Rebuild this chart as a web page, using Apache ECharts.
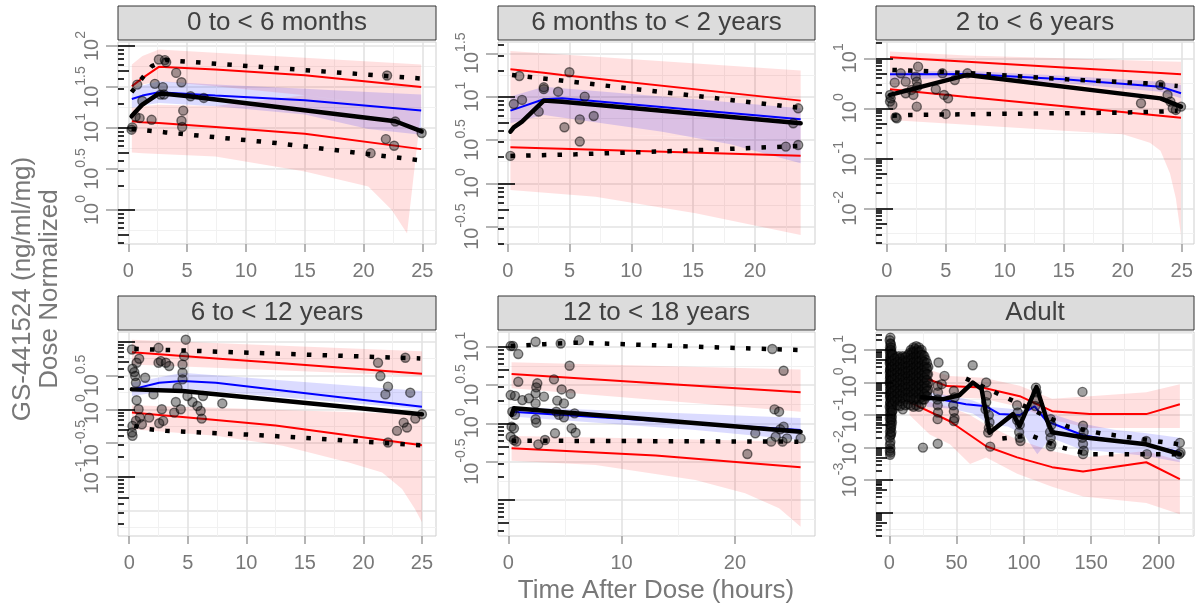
<!DOCTYPE html>
<html><head><meta charset="utf-8">
<script src="https://cdn.jsdelivr.net/npm/echarts@6.0.0/dist/echarts.min.js"></script>
<style>html,body{margin:0;padding:0;background:#fff}#chart{width:1199px;height:609px}</style>
</head><body><div id="chart"></div>
<script>
// ---------------- DATA (concentrations in ng/ml/mg, time in hours) ----------------
const panelTitles = ['0 to < 6 months', '6 months to < 2 years', '2 to < 6 years', '6 to < 12 years', '12 to < 18 years', 'Adult'];
const xAxisTitle = 'Time After Dose (hours)';
const yAxisTitle = 'GS-441524 (ng/ml/mg)\nDose Normalized';

// tick labels (x in hours, y as log10 exponents)
const p1_xTicks = [0, 5, 10, 15, 20, 25];  const p1_yTickExp = [0, 0.5, 1, 1.5, 2];
const p2_xTicks = [0, 5, 10, 15, 20];      const p2_yTickExp = [-0.5, 0, 0.5, 1, 1.5];
const p3_xTicks = [0, 5, 10, 15, 20, 25];  const p3_yTickExp = [-2, -1, 0, 1];
const p4_xTicks = [0, 5, 10, 15, 20, 25];  const p4_yTickExp = [-1.5, -1, -0.5, 0, 0.5, 1];
const p5_xTicks = [0, 10, 20];             const p5_yTickExp = [-1, -0.5, 0, 0.5, 1];
const p6_xTicks = [0, 50, 100, 150, 200];  const p6_yTickExp = [-4, -3, -2, -1, 0, 1];

// ---- Panel 1: 0 to < 6 months
const p1_binTime = [0.3, 1.2, 2.6, 7.4, 15, 24.9];
const p1_simP95 = [32.4, 40.7, 55.8, 51.9, 44.2, 31.6];
const p1_simP50 = [22.6, 24.9, 27.4, 24.9, 21.8, 16.4];
const p1_simP05 = [12.1, 11.8, 11.5, 10.3, 8.53, 5.53];
const p1_ciP95Time = [0.3, 1.2, 2.6, 7.4, 15, 24.9];
const p1_ciP95Hi = [59.7, 75.5, 91.2, 82.8, 71.9, 59.7];
const p1_ciP95Lo = [29.5, 33.9, 37.2, 32.4, 25.1, 16.6];
const p1_ciP50Time = [0.3, 1.2, 2.6, 7.4, 15, 20.4, 24.9];
const p1_ciP50Hi = [29.5, 33.0, 37.2, 34.0, 30.1, 27.5, 25.6];
const p1_ciP50Lo = [17.6, 18.8, 20.2, 18.4, 14.6, 9.73, 8.28];
const p1_ciP05Time = [0.3, 1.2, 2.6, 7.4, 15, 20.4, 22.4, 23.7, 24.9];
const p1_ciP05Hi = [17.6, 18.6, 19.3, 18.6, 25.1, 20.0, 18.4, 17.4, 16.6];
const p1_ciP05Lo = [5.04, 4.94, 4.81, 4.50, 2.95, 1.93, 1.0, 0.518, null];
const p1_obsMedTime = [0.28, 0.62, 1.19, 2.46, 2.88, 5.15, 22.7, 24.94];
const p1_obsMed = [13.9, 15.8, 19.3, 25.6, 26.3, 24.4, 12.1, 9.1];
const p1_obsP95Time = [0.28, 1.13, 2.0, 3.17, 24.94];
const p1_obsP95 = [27.4, 39.8, 56.9, 67.5, 40.2];
const p1_obsP05Time = [0.28, 3.17, 12.6, 24.94];
const p1_obsP05 = [9.77, 8.85, 6.55, 4.02];
const p1_obsTime = [0.28,0.34,0.62,0.76,0.96,1.19,1.98,2.26,2.6,2.94,3.11,3.22,2.74,3.03,4.07,4.52,4.67,4.52,4.58,5.29,6.42,21.9,22.0,22.6,20.6,22.7,24.94];
const p1_obsConc = [9.55,10.2,13.8,33.9,13.2,21.4,12.6,34.6,68.7,31.6,67.5,63.7,25.6,25.7,47.1,36.2,16.3,12.3,10.3,24.4,23.3,7.33,43.8,6.08,4.94,12.0,8.69];

// ---- Panel 2: 6 months to < 2 years
const p2_binTime = [0.22, 2.92, 4.4, 23.7];
const p2_simP95 = [20.7, 18.8, 17.8, 8.99];
const p2_simP50 = [6.89, 9.31, 9.57, 5.47];
const p2_simP05 = [2.60, 2.54, 2.50, 2.08];
const p2_ciP95Time = [0.22, 23.7];
const p2_ciP95Hi = [33.7, 19.95];
const p2_ciP95Lo = [3.98, 3.16];
const p2_ciP50Time = [0.22, 2.92, 12.5, 18, 23.7];
const p2_ciP50Hi = [10.0, 13.0, 10.0, 8.61, 7.33];
const p2_ciP50Lo = [4.92, 6.14, 3.94, 2.82, 1.70];
const p2_ciP05Time = [0.22, 7.1, 12, 15.2, 23.7];
const p2_ciP05Hi = [3.98, 3.72, 3.54, 3.43, 3.16];
const p2_ciP05Lo = [0.838, 0.701, 0.537, 0.451, 0.253];
const p2_obsMedTime = [0.22, 0.49, 1.16, 2.92, 4.4, 23.7];
const p2_obsMed = [3.94, 4.43, 5.15, 8.99, 8.75, 4.92];
const p2_obsP95Time = [0.35, 23.5];
const p2_obsP95 = [17.8, 7.46];
const p2_obsP05Time = [0.22, 5.5, 15, 23.5];
const p2_obsP05 = [2.07, 2.16, 2.40, 2.69];
const p2_obsTime = [0.22,0.49,0.94,1.16,2.51,2.92,2.92,4.08,4.59,4.99,5.83,5.83,6.23,6.96,23.5,23.5,22.5,23.1];
const p2_obsConc = [2.07,8.22,17.3,9.16,6.71,12.8,12.2,11.4,4.43,19.1,5.47,3.03,10.0,5.98,7.33,2.77,2.65,4.92];

// ---- Panel 3: 2 to < 6 years
const p3_binTime = [0.28, 6.84, 15, 23.2, 24.94];
const p3_simP95 = [10.5, 8.51, 6.56, 5.08, 4.79];
const p3_simP50 = [4.79, 4.86, 3.80, 2.71, 2.0];
const p3_simP05 = [2.40, 1.69, 1.10, 0.713, 0.65];
const p3_ciP95Time = [0.28, 6.84, 15, 23.2, 24.94];
const p3_ciP95Hi = [13.6, 11.4, 10.0, 8.71, 8.57];
const p3_ciP95Lo = [4.79, 4.86, 3.80, 2.71, 2.0];
const p3_ciP50Time = [0.28, 6.84, 15, 23.2, 24.94];
const p3_ciP50Hi = [5.41, 5.66, 4.47, 3.39, 2.93];
const p3_ciP50Lo = [3.69, 4.17, 3.16, 2.14, 1.58];
const p3_ciP05Time = [0.28, 6.84, 15, 20, 22.3, 23.2, 24.0, 24.5, 24.94];
const p3_ciP05Hi = [4.79, 4.86, 3.80, 3.16, 2.88, 2.71, 2.34, 2.14, 2.0];
const p3_ciP05Lo = [0.585, 0.468, 0.355, 0.302, 0.204, 0.141, 0.0501, 0.0158, 0.00282];
const p3_obsMedTime = [0.28, 6.84, 23.2, 24.94];
const p3_obsMed = [1.85, 4.65, 1.58, 1.08];
const p3_obsP95Time = [0.48, 4.5, 8.54, 15.27, 21.97, 24.66];
const p3_obsP95 = [5.85, 5.41, 4.79, 3.80, 3.16, 2.80];
const p3_obsP05Time = [0.48, 2, 10, 20, 24.66];
const p3_obsP05 = [0.708, 0.736, 0.776, 0.818, 0.885];
const p3_obsTime = [0.28,0.28,0.34,0.48,0.68,0.76,0.85,1.19,1.61,1.61,2.09,2.26,2.55,2.66,2.46,2.55,2.6,4.16,4.72,4.86,5.0,5.2,5.77,6.84,21.55,23.19,23.8,24.04,24.24,24.5,24.94];
const p3_obsConc = [1.85,1.36,1.58,1.17,3.26,0.661,0.631,5.01,3.41,2.0,2.33,1.85,1.08,6.81,4.30,3.41,2.71,2.40,5.01,1.85,0.771,1.58,3.69,5.01,1.26,2.93,1.85,1.36,1.0,0.927,1.08];

// ---- Panel 4: 6 to < 12 years
const p4_binTime = [0.23, 2.56, 4.55, 7.4, 12.5, 25];
const p4_simP95 = [7.0, 6.53, 6.15, 5.66, 4.86, 3.36];
const p4_simP50 = [1.97, 2.47, 2.62, 2.47, 1.95, 1.09];
const p4_simP05 = [0.893, 0.822, 0.766, 0.692, 0.575, 0.294];
const p4_ciP95Time = [0.23, 25];
const p4_ciP95Hi = [10.7, 7.24];
const p4_ciP95Lo = [4.60, 3.10];
const p4_ciP50Time = [0.23, 4.55, 25];
const p4_ciP50Hi = [2.47, 3.48, 1.86];
const p4_ciP50Lo = [1.57, 2.02, 1.0];
const p4_ciP05Time = [0.23, 7.4, 13.1, 18.75, 21.6, 23.3, 24.4, 25];
const p4_ciP05Hi = [1.15, 1.05, 0.979, 0.912, 0.881, 0.863, 0.851, 0.843];
const p4_ciP05Lo = [0.507, 0.405, 0.288, 0.164, 0.116, 0.0661, 0.0336, 0.0214];
const p4_obsMedTime = [0.23, 4.55, 25];
const p4_obsMed = [1.97, 1.86, 0.843];
const p4_obsP95Time = [0.43, 24.86];
const p4_obsP95 = [7.83, 5.65];
const p4_obsP05Time = [0.43, 1.7, 3.13, 11.2, 24.86];
const p4_obsP05 = [0.568, 0.507, 0.480, 0.414, 0.294];
const p4_obsTime = [0.23,0.28,0.43,0.51,0.57,0.63,0.85,0.63,0.8,0.91,0.57,0.28,0.23,0.28,1.08,1.36,1.7,2.07,
  2.5,2.5,2.7,2.78,2.56,2.9,3.13,3.41,3.84,3.98,4.12,4.4,4.55,4.55,4.55,4.69,4.83,4.97,5.4,5.82,6.1,6.19,6.3,7.95,
  21.25,21.45,21.88,22.1,22.1,22.87,23.58,23.72,23.44,24.0,24.43,25.0];
const p4_obsConc = [7.67,3.98,3.55,3.10,2.47,4.88,5.58,1.36,1.0,0.753,0.673,0.568,0.453,0.405,0.601,2.93,0.753,1.66,
  8.11,4.88,5.16,1.0,0.622,0.673,4.88,4.36,0.893,1.28,2.08,1.0,2.77,3.48,4.60,6.11,10.7,1.57,1.28,1.12,0.944,0.728,1.57,1.22,
  4.88,3.10,1.66,2.16,0.323,0.480,5.78,0.537,0.635,1.76,0.728,0.843];

// ---- Panel 5: 12 to < 18 years
const p5_binTime = [0.29, 13, 25.8];
const p5_simP95 = [4.40, 3.34, 2.54];
const p5_simP50 = [1.42, 1.08, 0.818];
const p5_simP05 = [0.472, 0.380, 0.267];
const p5_ciP95Time = [0.29, 25.8];
const p5_ciP95Hi = [6.25, 5.06];
const p5_ciP95Lo = [2.86, 1.42];
const p5_ciP50Time = [0.29, 16.5, 25.8];
const p5_ciP50Hi = [1.65, 1.33, 1.17];
const p5_ciP50Lo = [1.23, 0.818, 0.607];
const p5_ciP05Time = [0.29, 7.7, 16.5, 20.9, 23.9, 25.8];
const p5_ciP05Hi = [0.684, 0.652, 0.615, 0.597, 0.586, 0.577];
const p5_ciP05Lo = [0.326, 0.286, 0.182, 0.122, 0.0778, 0.0449];
const p5_obsMedTime = [0.29, 0.5, 25.8];
const p5_obsMed = [1.29, 1.57, 0.778];
const p5_obsP95Time = [0.21, 3.24, 6.09, 11.6, 18.6, 25.6];
const p5_obsP95 = [10.2, 10.8, 11.3, 10.6, 9.79, 9.06];
const p5_obsP05Time = [0.3, 25.6];
const p5_obsP05 = [0.594, 0.577];
const p5_obsTime = [0.21,0.41,0.88,2.41,4.62,6.24,5.41,0.88,2.56,2.47,4.03,4.71,5.5,0.21,0.59,1.24,1.82,2.41,2.41,3.15,4.32,4.91,4.24,4.47,4.91,5.85,0.35,0.59,2.41,2.47,0.29,0.5,0.21,0.5,0.71,2.65,3.24,4.12,5.59,5.94,
  23.3,24.3,23.5,23.9,21.1,21.8,23.2,23.6,24.0,24.3,24.6,24.2,25.8];
const p5_obsConc = [10.2,10.2,8.02,11.6,11.0,12.2,5.65,3.49,3.33,2.95,3.75,2.77,2.42,2.34,2.28,2.01,2.12,2.46,1.82,2.23,1.98,1.82,1.42,1.29,1.20,1.35,1.42,1.29,1.13,1.02,0.906,0.861,0.670,0.607,0.577,0.532,0.607,0.741,0.861,0.755,
  9.33,4.86,1.52,1.42,0.398,0.741,0.577,0.670,0.836,0.906,0.637,0.577,0.637];

// ---- Panel 6: Adult
const p6_simP95Time = [25, 43, 69, 97, 121, 149, 191, 216];
const p6_simP95 = [1.45, 0.776, 0.708, 0.380, 0.132, 0.107, 0.107, 0.214];
const p6_simP50Time = [30, 57, 72, 82, 97, 108, 117, 144, 170, 191, 216];
const p6_simP50 = [0.355, 0.214, 0.186, 0.107, 0.1, 0.186, 0.0646, 0.024, 0.0158, 0.012, 0.00724];
const p6_simP05Time = [15, 45, 72, 95, 121, 144, 191, 216];
const p6_simP05 = [0.251, 0.0646, 0.011, 0.00501, 0.00251, 0.00186, 0.00355, 0.00107];
const p6_ciP95Time = [25, 45, 70, 97, 121, 149, 191, 216];
const p6_ciP95Hi = [2.82, 1.58, 1.41, 0.794, 0.316, 0.380, 0.501, 0.891];
const p6_ciP95Lo = [0.562, 0.355, 0.316, 0.178, 0.0708, 0.0398, 0.0398, 0.0398];
const p6_ciP50Time = [28, 45, 62, 75, 88, 100, 110, 120, 142, 167, 190, 216];
const p6_ciP50Hi = [0.501, 0.398, 0.282, 0.178, 0.158, 0.141, 0.251, 0.112, 0.0562, 0.0355, 0.0282, 0.02];
const p6_ciP50Lo = [0.178, 0.158, 0.112, 0.0501, 0.0447, 0.0251, 0.00631, 0.02, 0.00891, 0.00708, 0.00562, 0.00355];
const p6_ciP05Time = [15, 30, 45, 60, 72, 95, 121, 144, 191, 216];
const p6_ciP05Hi = [0.501, 0.251, 0.178, 0.1, 0.0501, 0.0178, 0.00794, 0.00501, 0.00794, 0.00398];
const p6_ciP05Lo = [0.1, 0.0251, 0.0126, 0.00316, 0.00501, 0.00158, 0.000631, 0.000316, 0.0002, 0.0000891];
const p6_obsMedTime = [24, 40, 52, 62, 68.6, 74.5, 92, 96.8, 109.4, 117, 121, 144, 191, 216];
const p6_obsMed = [0.355, 0.309, 0.407, 1.0, 0.631, 0.0288, 0.107, 0.0457, 0.724, 0.0741, 0.0295, 0.0209, 0.0126, 0.00631];
const p6_obsP95Time = [57, 133, 157, 180, 203, 216];
const p6_obsP95 = [1.32, 0.0437, 0.0275, 0.0204, 0.0148, 0.0126];
const p6_obsP05Time = [84, 105, 126, 138, 149, 209, 216];
const p6_obsP05 = [0.0191, 0.024, 0.0107, 0.00794, 0.00631, 0.00631, 0.00631];
const p6_obsTime = [
  0.3,0.5,0.4,0.6,0.5,0.3,0.7,0.5,0.4,0.6,0.5,0.3,0.5,0.7,0.4,0.5,0.6,0.3,0.5,0.4,0.6,0.5,0.3,0.5,0.4,0.6,
  1.1,1.3,1.2,1.0,1.4,1.2,1.1,1.3,1.2,1.0,1.4,1.2,1.1,1.3,1.2,1.0,1.4,1.2,1.1,1.3,1.2,
  2.0,2.2,1.9,2.1,2.3,2.0,1.8,2.2,2.1,1.9,2.0,2.3,2.1,1.9,2.0,
  3.0,3.2,2.9,3.1,3.0,2.8,3.2,3.0,3.1,
  5.0,4.8,5.2,5.0,4.9,5.1,5.0,5.2,
  7.0,6.8,7.2,7.0,6.9,7.1,7.0,
  9.0,9.2,8.8,9.0,9.1,8.9,
  11.0,11.2,10.8,11.0,11.1,10.9,11.0,
  13.0,12.8,13.2,13.0,12.9,13.1,
  15.0,15.2,14.8,15.0,15.1,14.9,15.0,15.2,
  17.0,16.8,17.2,17.0,16.9,17.1,17.0,16.8,
  19.0,19.2,18.8,19.0,19.1,18.9,19.0,19.2,18.8,
  21.0,20.8,21.2,21.0,20.9,21.1,21.0,20.8,21.2,
  23.0,23.2,22.8,23.0,23.1,22.9,23.0,23.2,
  25.0,24.8,25.2,25.0,24.9,25.1,25.0,24.8,25.0,
  27.0,27.2,26.8,27.0,27.1,26.9,
  29.0,28.8,29.2,29.0,
  0.8,0.8,0.8,0.8,0.8,0.8,0.8,0.8,0.8,0.8,0.8,0.8,0.8,0.8,0.8,0.8,0.8,0.8,0.8,
  1.6,1.6,1.6,1.6,1.6,1.6,1.6,1.6,1.6,1.6,1.6,1.6,1.6,1.6,
  2.5,2.5,2.5,2.5,2.5,2.5,2.5,2.5,2.5,2.5,
  4,4,4,4,4,4,4,4,4,
  6,6,6,6,6,6,6,6,6,6,
  8,8,8,8,8,8,8,8,8,8,
  10,10,10,10,10,10,10,10,10,10,10,
  12,12,12,12,12,12,12,12,12,12,
  14,14,14,14,14,14,14,14,14,14,
  16,16,16,16,16,16,16,16,16,16,16,
  18,18,18,18,18,18,18,18,18,18,18,18,
  20,20,20,20,20,20,20,20,20,20,20,20,
  22,22,22,22,22,22,22,22,22,22,22,22,
  24,24,24,24,24,24,24,24,24,24,24,
  26,26,26,26,26,26,26,26,26,
  28,28,28,28,28,28,28,
  36.6,36.0,36.2,35.8,36.0,36.2,35.9,36.0,
  39,41,
  48.0,48.5,47.5,48.0,48.5,48.0,
  62,
  72.0,72.5,72.0,71.5,
  74.0,74.5,74.0,73.5,
  75,
  95.0,95.5,95.0,
  97.0,96.5,97.0,97.5,
  109.0,109.5,109.0,108.5,
  120.0,120.5,119.5,120.0,120.5,120.0,
  143.6,
  144.0,144.5,143.5,144.0,144.5,144.0,
  191.0,191.5,
  216.0,216.5,215.5];
const p6_obsConc = [
  20,12,9,7,5,4,3,2.5,2,1.6,1.3,1.0,0.8,0.6,0.45,0.35,0.25,0.18,0.12,0.08,0.05,0.03,0.02,0.012,0.008,0.006,
  15,10,6,4.5,3.5,2.8,2.2,1.8,1.4,1.1,0.9,0.7,0.5,0.4,0.3,0.2,0.15,0.1,0.07,0.04,0.025,
  8,6,4,3,2.3,1.7,1.2,0.85,0.6,0.42,0.3,0.2,0.13,0.09,0.06,
  6,4,2.5,1.8,1.2,0.8,0.5,0.3,0.2,
  5,3.5,2.2,1.5,1,0.7,0.45,0.3,
  6.5,4,2.5,1.6,1,0.6,0.35,
  5,3,1.8,1.1,0.7,0.4,
  6,4,2.5,1.5,1,0.6,0.35,
  5,3,2,1.3,0.8,0.5,
  8,5,3.5,2.2,1.4,0.9,0.55,0.3,
  9,6,4,2.6,1.7,1.1,0.7,0.4,
  11,7,4.5,3,2,1.3,0.8,0.5,0.3,
  10,7,5,3.2,2.1,1.4,0.9,0.55,0.35,
  9,6,4,2.7,1.8,1.2,0.75,0.45,
  7,4.5,3,2,1.3,0.8,0.5,0.3,0.01,
  5,3,2,1.2,0.7,0.4,
  3,1.8,1,0.6,
  24,16,10,6,3.8,2.4,1.5,0.95,0.6,0.38,0.24,0.15,0.095,0.06,0.038,0.024,0.015,0.0095,0.007,
  12,7.5,4.8,3,1.9,1.2,0.75,0.48,0.3,0.19,0.12,0.075,0.048,0.03,
  7,4.6,3,2,1.3,0.85,0.55,0.35,0.22,0.14,
  5.5,3.8,2.6,1.8,1.25,0.85,0.58,0.4,0.27,
  6,4.2,2.9,2,1.4,0.95,0.65,0.45,0.3,0.2,
  5.5,3.8,2.6,1.8,1.25,0.85,0.58,0.4,0.27,0.19,
  6.5,4.5,3.1,2.1,1.45,1,0.68,0.47,0.32,0.22,0.15,
  6,4.2,2.9,2,1.35,0.93,0.64,0.44,0.3,0.2,
  7,4.8,3.3,2.3,1.6,1.1,0.75,0.5,0.35,0.22,
  10,7,4.8,3.3,2.3,1.6,1.1,0.75,0.5,0.35,0.2,
  12,8.5,6,4.2,2.9,2,1.4,0.95,0.65,0.45,0.3,0.18,
  13,9,6.3,4.4,3.1,2.2,1.5,1.05,0.72,0.5,0.34,0.2,
  12,8.5,6,4.2,2.9,2,1.4,0.95,0.65,0.45,0.3,0.18,
  10,7,4.8,3.3,2.3,1.6,1.1,0.75,0.5,0.35,0.22,
  6.5,4.4,3,2,1.4,0.95,0.65,0.45,0.3,
  4,2.7,1.8,1.2,0.8,0.55,0.38,
  4.12,0.8,0.5,0.3,0.2,0.12,0.075,0.0132,
  0.89,1.6,
  0.55,0.35,0.2,0.13,0.08,0.066,
  3.41,
  1.0,0.4,0.25,0.15,
  0.1,0.06,0.04,0.029,
  0.0107,
  0.2,0.12,0.07,
  0.05,0.03,0.02,0.016,
  0.7,0.5,0.3,0.19,
  0.075,0.05,0.03,0.02,0.013,0.011,
  0.516,
  0.047,0.03,0.02,0.013,0.008,0.0063,
  0.016,0.0063,
  0.014,0.007,0.0063];

// ---------------- LAYOUT / STYLE ----------------
const FONT = "'Liberation Sans', Arial, Helvetica, sans-serif";
const TXT = '#787878';
const GRID_POS = [
  {left: 118, top: 42, width: 318, height: 202},
  {left: 498, top: 42, width: 317, height: 202},
  {left: 876, top: 42, width: 318, height: 202},
  {left: 118, top: 332, width: 318, height: 204},
  {left: 498, top: 332, width: 317, height: 204},
  {left: 876, top: 332, width: 318, height: 204}
];
const X_RANGE = [[-0.876, 26.16], [-0.785, 24.86], [-0.907, 26.04], [-0.96, 26.2], [-0.909, 27.07], [-9.89, 226.5]];
const Y_RANGE = [[-0.415, 2.05], [-0.70, 1.63], [-2.714, 1.326], [-1.874, 1.143], [-1.47, 1.192], [-4.716, 1.553]];

const PANELS = [
  {xTicks: p1_xTicks, yTicks: p1_yTickExp,
   sim: [[p1_binTime, p1_simP95], [p1_binTime, p1_simP50], [p1_binTime, p1_simP05]],
   ci: [[p1_ciP95Time, p1_ciP95Hi, p1_ciP95Lo], [p1_ciP05Time, p1_ciP05Hi, p1_ciP05Lo], [p1_ciP50Time, p1_ciP50Hi, p1_ciP50Lo]],
   obs: [[p1_obsMedTime, p1_obsMed], [p1_obsP95Time, p1_obsP95], [p1_obsP05Time, p1_obsP05]],
   pts: [p1_obsTime, p1_obsConc]},
  {xTicks: p2_xTicks, yTicks: p2_yTickExp,
   sim: [[p2_binTime, p2_simP95], [p2_binTime, p2_simP50], [p2_binTime, p2_simP05]],
   ci: [[p2_ciP95Time, p2_ciP95Hi, p2_ciP95Lo], [p2_ciP05Time, p2_ciP05Hi, p2_ciP05Lo], [p2_ciP50Time, p2_ciP50Hi, p2_ciP50Lo]],
   obs: [[p2_obsMedTime, p2_obsMed], [p2_obsP95Time, p2_obsP95], [p2_obsP05Time, p2_obsP05]],
   pts: [p2_obsTime, p2_obsConc]},
  {xTicks: p3_xTicks, yTicks: p3_yTickExp,
   sim: [[p3_binTime, p3_simP95], [p3_binTime, p3_simP50], [p3_binTime, p3_simP05]],
   ci: [[p3_ciP95Time, p3_ciP95Hi, p3_ciP95Lo], [p3_ciP05Time, p3_ciP05Hi, p3_ciP05Lo], [p3_ciP50Time, p3_ciP50Hi, p3_ciP50Lo]],
   obs: [[p3_obsMedTime, p3_obsMed], [p3_obsP95Time, p3_obsP95], [p3_obsP05Time, p3_obsP05]],
   pts: [p3_obsTime, p3_obsConc]},
  {xTicks: p4_xTicks, yTicks: p4_yTickExp,
   sim: [[p4_binTime, p4_simP95], [p4_binTime, p4_simP50], [p4_binTime, p4_simP05]],
   ci: [[p4_ciP95Time, p4_ciP95Hi, p4_ciP95Lo], [p4_ciP05Time, p4_ciP05Hi, p4_ciP05Lo], [p4_ciP50Time, p4_ciP50Hi, p4_ciP50Lo]],
   obs: [[p4_obsMedTime, p4_obsMed], [p4_obsP95Time, p4_obsP95], [p4_obsP05Time, p4_obsP05]],
   pts: [p4_obsTime, p4_obsConc]},
  {xTicks: p5_xTicks, yTicks: p5_yTickExp,
   sim: [[p5_binTime, p5_simP95], [p5_binTime, p5_simP50], [p5_binTime, p5_simP05]],
   ci: [[p5_ciP95Time, p5_ciP95Hi, p5_ciP95Lo], [p5_ciP05Time, p5_ciP05Hi, p5_ciP05Lo], [p5_ciP50Time, p5_ciP50Hi, p5_ciP50Lo]],
   obs: [[p5_obsMedTime, p5_obsMed], [p5_obsP95Time, p5_obsP95], [p5_obsP05Time, p5_obsP05]],
   pts: [p5_obsTime, p5_obsConc]},
  {xTicks: p6_xTicks, yTicks: p6_yTickExp,
   sim: [[p6_simP95Time, p6_simP95], [p6_simP50Time, p6_simP50], [p6_simP05Time, p6_simP05]],
   ci: [[p6_ciP95Time, p6_ciP95Hi, p6_ciP95Lo], [p6_ciP05Time, p6_ciP05Hi, p6_ciP05Lo], [p6_ciP50Time, p6_ciP50Hi, p6_ciP50Lo]],
   obs: [[p6_obsMedTime, p6_obsMed], [p6_obsP95Time, p6_obsP95], [p6_obsP05Time, p6_obsP05]],
   pts: [p6_obsTime, p6_obsConc]}
];

const lg = v => Math.log10(v);
function minorOf(ticks, range) {
  const step = ticks[1] - ticks[0], out = [];
  for (let v = ticks[0] - step / 2; v <= range[1]; v += step) if (v >= range[0]) out.push(+v.toFixed(6));
  return out;
}
function logTicks(range, kind) {
  const out = [];
  for (let n = Math.floor(range[0]); n <= Math.ceil(range[1]); n++) {
    for (let k = 1; k <= 9; k++) {
      const v = n + Math.log10(k);
      if (v < range[0] || v > range[1]) continue;
      if ((kind === 'long' && k === 1) || (kind === 'mid' && k === 5) || (kind === 'short' && k !== 1 && k !== 5)) out.push(v);
    }
  }
  return out;
}

const grids = [], xAxes = [], yAxes = [], series = [], graphics = [];
const RED = '#ff0000', BLUE = '#0000ff';
const SIM_COLORS = [RED, BLUE, RED];

PANELS.forEach((p, i) => {
  const gp = GRID_POS[i], xr = X_RANGE[i], yr = Y_RANGE[i];
  grids.push(Object.assign({show: true, borderColor: '#cfcfcf', borderWidth: 1, backgroundColor: '#ffffff', containLabel: false}, gp));
  const xi = xAxes.length, yi = yAxes.length;
  xAxes.push({type: 'value', gridIndex: i, min: xr[0], max: xr[1], position: 'bottom',
    axisLine: {show: false, onZero: false},
    axisTick: {show: true, customValues: p.xTicks, length: 8, lineStyle: {color: '#9c9c9c', width: 1.5}},
    axisLabel: {show: true, customValues: p.xTicks, margin: 17, fontSize: 20, color: TXT, fontFamily: FONT},
    splitLine: {show: true, lineStyle: {color: '#e3e3e3', width: 1.6}}});
  xAxes.push({type: 'value', gridIndex: i, min: xr[0], max: xr[1], position: 'top',
    axisLine: {show: false, onZero: false}, axisTick: {show: false, customValues: minorOf(p.xTicks, xr)},
    axisLabel: {show: false}, splitLine: {show: true, lineStyle: {color: '#f1f1f1', width: 1}}});
  yAxes.push({type: 'value', gridIndex: i, min: yr[0], max: yr[1], position: 'left',
    axisLine: {show: false, onZero: false},
    axisTick: {show: true, customValues: p.yTicks, length: 12, lineStyle: {color: '#9c9c9c', width: 1.5}},
    axisLabel: {show: true, customValues: p.yTicks, rotate: 90, margin: 16,
      formatter: v => '{b|10}{s|' + String(v) + '}',
      rich: {
        b: {fontSize: 20, fontFamily: FONT, color: TXT, verticalAlign: 'bottom'},
        s: {fontSize: 14, fontFamily: FONT, color: TXT, verticalAlign: 'bottom', padding: [0, 0, 14, 0]}
      }},
    splitLine: {show: true, lineStyle: {color: '#e3e3e3', width: 1.6}}});
  yAxes.push({type: 'value', gridIndex: i, min: yr[0], max: yr[1], position: 'right',
    axisLine: {show: false, onZero: false}, axisTick: {show: false, customValues: minorOf(p.yTicks, yr)},
    axisLabel: {show: false}, splitLine: {show: true, lineStyle: {color: '#f1f1f1', width: 1}}});
  [['long', 17], ['mid', 11], ['short', 6]].forEach(([kind, len]) => {
    yAxes.push({type: 'value', gridIndex: i, min: yr[0], max: yr[1], position: 'left', offset: 0, z: 6,
      axisLine: {show: false, onZero: false},
      axisTick: {show: true, inside: true, length: len, customValues: logTicks(yr, kind), lineStyle: {color: '#000000', width: 1.6}},
      axisLabel: {show: false}, splitLine: {show: false}});
  });

  p.ci.forEach((c, k) => {
    const [t, hi, lo] = c;
    const fill = k < 2 ? 'rgba(255,0,0,0.12)' : 'rgba(0,0,255,0.14)';
    series.push({type: 'custom', xAxisIndex: xi, yAxisIndex: yi, silent: true, z: 2 + (k === 2 ? 1 : 0),
      data: [[t[0], lg(hi[0])]],
      renderItem: (params, api) => {
        const pts = [];
        for (let j = 0; j < t.length; j++) if (hi[j] != null) pts.push(api.coord([t[j], lg(hi[j])]));
        for (let j = t.length - 1; j >= 0; j--) if (lo[j] != null) pts.push(api.coord([t[j], lg(lo[j])]));
        return {type: 'polygon', shape: {points: pts}, style: {fill: fill}, silent: true};
      }});
  });
  p.sim.forEach((s, k) => {
    series.push({type: 'line', xAxisIndex: xi, yAxisIndex: yi, silent: true, z: 4, symbol: 'none',
      data: s[0].map((tt, j) => [tt, lg(s[1][j])]),
      lineStyle: {color: SIM_COLORS[k], width: 2}});
  });
  series.push({type: 'scatter', xAxisIndex: xi, yAxisIndex: yi, silent: true, z: 5, symbol: 'circle', symbolSize: 9,
    data: p.pts[0].map((tt, j) => [tt, lg(p.pts[1][j])]),
    itemStyle: {color: 'rgba(20,20,20,0.5)', borderColor: 'rgba(0,0,0,0.65)', borderWidth: 1.4}});
  p.obs.forEach((o, k) => {
    series.push({type: 'line', xAxisIndex: xi, yAxisIndex: yi, silent: true, z: 7, symbol: 'none',
      data: o[0].map((tt, j) => [tt, lg(o[1][j])]),
      lineStyle: k === 0 ? {color: '#000', width: 4.5, cap: 'round', join: 'round'}
                         : {color: '#000', width: 4.5, type: [4.5, 11.2], cap: 'butt'}});
  });

  graphics.push({type: 'rect', shape: {x: gp.left, y: gp.top - 36, width: gp.width, height: 34},
    style: {fill: '#dcdcdc', stroke: '#333333', lineWidth: 1}, silent: true, z: 10});
  graphics.push({type: 'text', x: gp.left + gp.width / 2, y: gp.top - 19, silent: true, z: 11,
    style: {text: panelTitles[i], fontSize: 26, fontFamily: FONT, fill: '#404040', textAlign: 'center', textVerticalAlign: 'middle'}});
});

graphics.push({type: 'text', x: 656, y: 591, silent: true,
  style: {text: xAxisTitle, fontSize: 26, fontFamily: FONT, fill: TXT, textAlign: 'center', textVerticalAlign: 'middle'}});
graphics.push({type: 'text', x: 36, y: 289, rotation: Math.PI / 2, silent: true,
  style: {text: yAxisTitle, fontSize: 26, lineHeight: 27, fontFamily: FONT, fill: TXT, textAlign: 'center', textVerticalAlign: 'middle'}});

const chart = echarts.init(document.getElementById('chart'), null, {renderer: 'canvas'});
chart.setOption({
  animation: false,
  backgroundColor: '#ffffff',
  textStyle: {fontFamily: FONT},
  grid: grids, xAxis: xAxes, yAxis: yAxes, series: series, graphic: graphics
});
</script></body></html>
